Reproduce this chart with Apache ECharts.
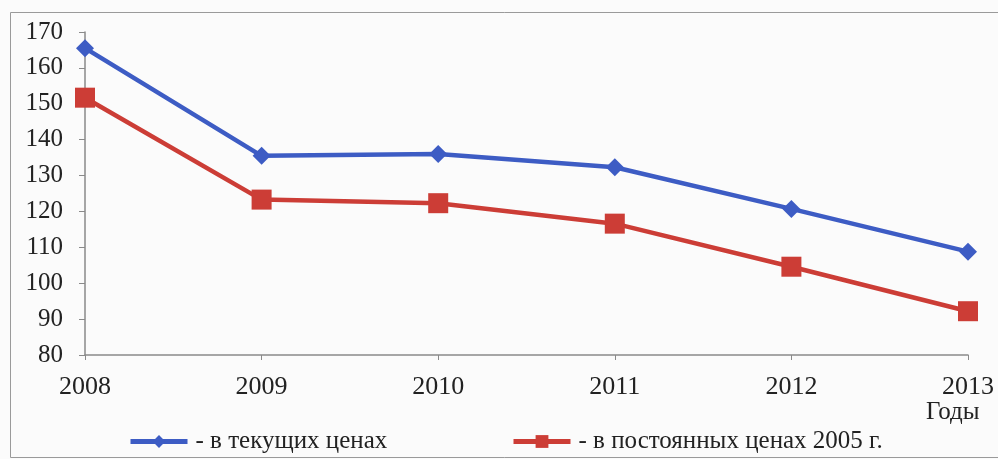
<!DOCTYPE html>
<html><head><meta charset="utf-8">
<script src="https://cdn.jsdelivr.net/npm/echarts@6/dist/echarts.min.js"></script>
<style>html,body{margin:0;padding:0;background:#fbfbfb;}#c{width:998px;height:459px;}</style>
</head><body><div id="c"></div>
<script>
const years = ['2008','2009','2010','2011','2012','2013'];
const currentPrices = [165.5, 135.5, 136.0, 132.3, 120.7, 108.8];
const constantPrices = [151.7, 123.3, 122.3, 116.6, 104.6, 92.2];
const seriesNames = ['- в текущих ценах', '- в постоянных ценах 2005 г.'];
const yTicks = {min: 80, max: 170, interval: 10};
const xAxisTitle = 'Годы';

const font = '"Liberation Serif", "DejaVu Serif", serif';
const legendText = {fontSize: 25, color: '#222', fontFamily: font, padding: [0, 0, 0, 3]};
const chart = echarts.init(document.getElementById('c'));
chart.setOption({
  backgroundColor: '#fbfbfb',
  animation: false,
  textStyle: {fontFamily: font},
  graphic: [
    {type: 'rect', left: 8, top: 10, shape: {width: 990, height: 445},
     style: {fill: 'none', stroke: '#9a9a9a', lineWidth: 1}},
    {type: 'text', left: 926, top: 400,
     style: {text: xAxisTitle, font: '25px ' + font, fill: '#222'}}
  ],
  grid: {left: 85, right: 30, top: 32, bottom: 104},
  legend: [
    {top: 424, left: 123, itemWidth: 57, itemHeight: 16, textStyle: legendText,
     lineStyle: {width: 5}, data: [seriesNames[0]]},
    {top: 424, left: 506, itemWidth: 57, itemHeight: 16, textStyle: legendText,
     lineStyle: {width: 5}, data: [seriesNames[1]]}
  ],
  xAxis: {
    type: 'category', data: years, boundaryGap: false,
    axisLine: {lineStyle: {color: '#8a8a8a', width: 1.5}},
    axisTick: {show: true, alignWithLabel: true, length: 5, lineStyle: {color: '#8a8a8a'}},
    axisLabel: {fontSize: 26, color: '#222', margin: 19, fontFamily: font},
    splitLine: {show: false}
  },
  yAxis: {
    type: 'value', min: yTicks.min, max: yTicks.max, interval: yTicks.interval,
    axisLine: {show: true, lineStyle: {color: '#8a8a8a', width: 1.5}},
    axisTick: {show: true, length: 6, lineStyle: {color: '#8a8a8a'}},
    axisLabel: {fontSize: 25, color: '#222', margin: 22, fontFamily: font},
    splitLine: {show: false}
  },
  series: [
    {name: seriesNames[0], type: 'line', data: currentPrices,
     symbol: 'diamond', symbolSize: 18, showAllSymbol: true,
     lineStyle: {color: '#3d5cc4', width: 4.5},
     itemStyle: {color: '#3d5cc4'}},
    {name: seriesNames[1], type: 'line', data: constantPrices,
     symbol: 'rect', symbolSize: 20,
     lineStyle: {color: '#cc3d36', width: 4.5},
     itemStyle: {color: '#cc3d36'}}
  ]
});
</script></body></html>
